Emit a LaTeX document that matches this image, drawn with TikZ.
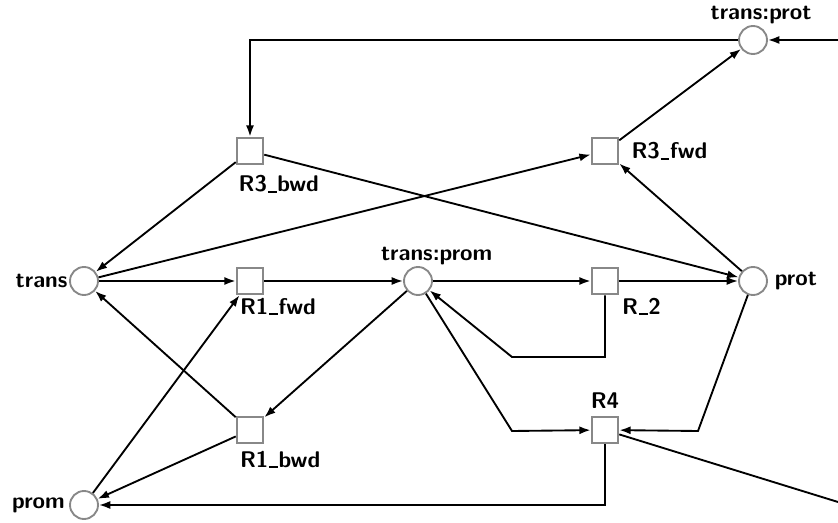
\documentclass[tikz,border=0pt]{standalone}
\usepackage{fontspec}
\usepackage{tikz}
\usetikzlibrary{arrows.meta}
\definecolor{rim}{RGB}{136,136,136}
\newcommand\rulebar{\kern0.6pt\rule[-0.6pt]{6.5pt}{1.5pt}\kern0.6pt}

\begin{document}
\begin{tikzpicture}[x=0.75pt, y=-0.75pt,
		place/.style={circle, draw=rim, line width=1.4pt, fill=white,
		              minimum size=21pt, inner sep=0pt},
		trn/.style={rectangle, draw=rim, line width=1.4pt, fill=white,
		            minimum size=20pt, inner sep=0pt},
		every label/.style={font=\fontsize{17}{20}\selectfont\sffamily\bfseries, inner sep=1pt},
		arc/.style={line width=1.4pt, -{Latex[length=8.5pt,width=6pt]}}]
	\useasboundingbox (0,0) rectangle (838,523);
	% places
	\node[place, label={[anchor=south, xshift=6pt, yshift=0pt]north:{trans:prot}}] (tprot) at (753,40) {};
	\node[place, label={[anchor=east]west:trans}] (trans) at (84,281) {};
	\node[place, label={[anchor=south, xshift=14pt, yshift=0pt]north:{trans:prom}}] (tprom) at (418,281) {};
	\node[place, label={[anchor=west, xshift=4pt]east:prot}] (prot) at (753,281) {};
	\node[place, label={[anchor=east, xshift=-2pt]west:prom}] (prom) at (84,505) {};
	% transitions
	\node[trn, label={[anchor=north west, xshift=1pt, yshift=-6.5pt]south west:R3\rulebar{}bwd}] (r3bwd) at (250,151) {};
	\node[trn, label={[anchor=west, xshift=8pt]east:R3\rulebar{}fwd}] (r3fwd) at (605,151) {};
	\node[trn, label={[anchor=north west, xshift=2pt, yshift=-1pt]south west:R1\rulebar{}fwd}] (r1fwd) at (250,281) {};
	\node[trn, label={[anchor=north west, xshift=1pt, yshift=-1pt]south east:R\rulebar{}2}] (r2) at (605,281) {};
	\node[trn, label={[anchor=north west, xshift=2pt, yshift=-4pt]south west:R1\rulebar{}bwd}] (r1bwd) at (250,430) {};
	\node[trn, label={[anchor=south, yshift=4pt]north:R4}] (r4) at (605,430) {};
	% bends and loose ends
	\coordinate (in) at (838,40);
	\coordinate (out) at (838,502);
	\coordinate (b1) at (512,357);
	\coordinate (b2) at (512,431);
	\coordinate (b3) at (698,431);
	% arcs
	\draw[arc] (in) -- (tprot);
	\draw[arc] (tprot) -| (r3bwd);
	\draw[arc] (r3bwd) -- (trans);
	\draw[arc] (r3bwd) -- (prot);
	\draw[arc] (trans) -- (r3fwd);
	\draw[arc] (r3fwd) -- (tprot);
	\draw[arc] (prot) -- (r3fwd);
	\draw[arc] (trans) -- (r1fwd);
	\draw[arc] (prom) -- (r1fwd);
	\draw[arc] (r1fwd) -- (tprom);
	\draw[arc] (tprom) -- (r2);
	\draw[arc] (r2) -- (prot);
	\draw[arc] (r2) |- (b1) -- (tprom);
	\draw[arc] (tprom) -- (r1bwd);
	\draw[arc] (r1bwd) -- (trans);
	\draw[arc] (r1bwd) -- (prom);
	\draw[arc] (tprom) -- (b2) -- (r4);
	\draw[arc] (prot) -- (b3) -- (r4);
	\draw[arc] (r4) |- (prom);
	\draw[line width=1.4pt] (r4) -- (out);
\end{tikzpicture}
\end{document}
